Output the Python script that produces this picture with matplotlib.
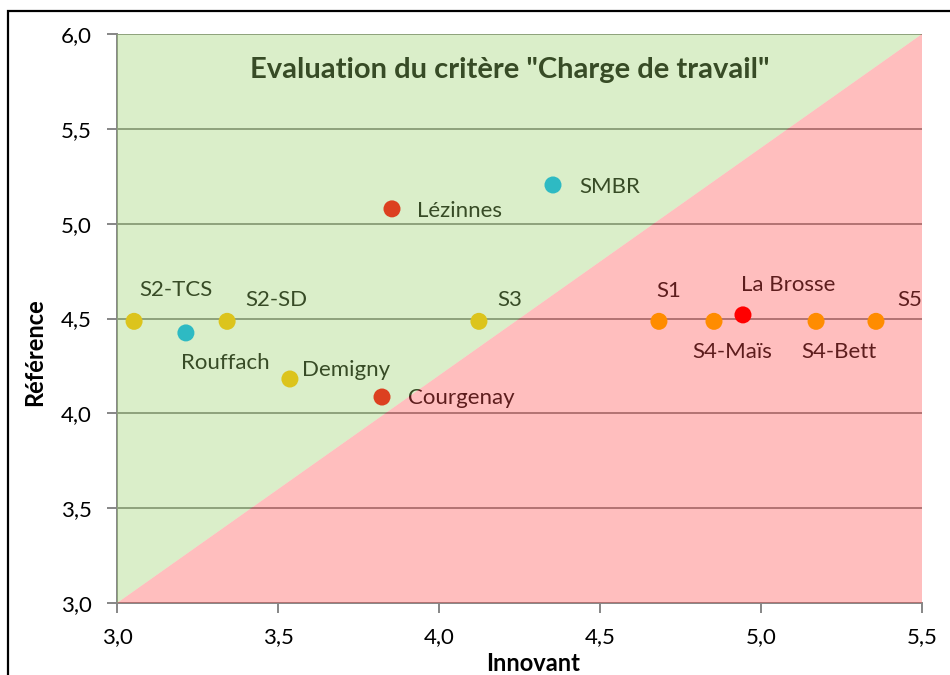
import matplotlib
matplotlib.use("Agg")
import matplotlib.pyplot as plt
from matplotlib.patches import Polygon, Rectangle
from matplotlib.ticker import FuncFormatter, MultipleLocator

plt.rcParams['font.family'] = ['Lato', 'DejaVu Sans']

# data
names = ["S2-TCS", "Rouffach", "S2-SD", "Demigny", "Courgenay", "Lézinnes",
         "SMBR", "S3", "S1", "S4-Maïs", "La Brosse", "S4-Bett", "S5"]
innovant = [3.053, 3.214, 3.342, 3.537, 3.823, 3.854, 4.354, 4.124,
            4.683, 4.854, 4.944, 5.171, 5.357]
reference = [4.485, 4.424, 4.485, 4.181, 4.086, 5.078, 5.204, 4.485,
             4.485, 4.485, 4.519, 4.485, 4.485]
colors = ["#dcc41c", "#2ebac3", "#dcc41c", "#dcc41c", "#dc4020", "#dc4020",
          "#2ebac3", "#dcc41c", "#ff8c00", "#ff8c00", "#ff0000", "#ff8c00", "#ff8c00"]
# label offsets in pixels (dx, dy up) and alignment
offsets = [(5, 31, 'left'), (39, -30, 'center'), (18, 21, 'left'), (12, 9, 'left'),
           (26, -1, 'left'), (25, -2, 'left'), (26, -2, 'left'), (18, 21, 'left'),
           (-3, 30, 'left'), (-22, -31, 'left'), (-2, 30, 'left'), (-15, -31, 'left'),
           (21, 21, 'left')]

xmin, xmax = 3.0, 5.5
ymin, ymax = 3.0, 6.0

fig = plt.figure(figsize=(9.5, 6.75), dpi=100)
ax = fig.add_axes([117/950, 1 - 603/675, 805/950, 569/675])

# outer frame (runs off the right/bottom edge like the screenshot)
fig.patches.append(Rectangle((8/950, -0.2), 1.2, 1 - 11/675 + 0.2,
                             transform=fig.transFigure, fill=False,
                             edgecolor='black', linewidth=1.6))

ax.set_xlim(xmin, xmax)
ax.set_ylim(ymin, ymax)
ax.xaxis.set_major_locator(MultipleLocator(0.5))
ax.yaxis.set_major_locator(MultipleLocator(0.5))
fmt = FuncFormatter(lambda v, p: f"{v:.1f}".replace('.', ','))
ax.xaxis.set_major_formatter(fmt)
ax.yaxis.set_major_formatter(fmt)

ax.grid(axis='y', color='#868686', linewidth=1.4, zorder=1)
ax.set_axisbelow(True)
for s in ['top', 'right']:
    ax.spines[s].set_visible(False)
for s in ['left', 'bottom']:
    ax.spines[s].set_color('#868686')
    ax.spines[s].set_linewidth(1.4)
ax.tick_params(axis='both', colors='#868686', labelcolor='black', labelsize=16,
               length=7, width=1.4)
ax.tick_params(axis='y', pad=11)
ax.tick_params(axis='x', pad=10)

# labels (under the coloured overlay, like the original)
dpi_scale = 72 / fig.dpi
for n, x, y, (dx, dy, ha) in zip(names, innovant, reference, offsets):
    ax.annotate(n, (x, y), xytext=(dx * dpi_scale, dy * dpi_scale),
                textcoords='offset points', ha=ha, va='center',
                fontsize=16, color='#000000', zorder=2)

ax.text(0.488, 0.937, 'Evaluation du critère "Charge de travail"',
        transform=ax.transAxes, ha='center', va='center', fontsize=21,
        fontweight='bold', color='#000000', zorder=2)

# coloured zones above / below the diagonal
ax.add_patch(Polygon([(xmin, ymin), (xmax, ymax), (xmin, ymax)], closed=True,
                     facecolor='#9bd26a', edgecolor='none', alpha=0.36, zorder=3))
ax.add_patch(Polygon([(xmin, ymin), (xmax, ymin), (xmax, ymax)], closed=True,
                     facecolor='#ff5050', edgecolor='none', alpha=0.37, zorder=3))

ax.scatter(innovant, reference, s=150, c=colors, edgecolors='none', zorder=4)

ax.set_xlabel('Innovant', fontsize=17, fontweight='bold')
ax.set_ylabel('Référence', fontsize=17, fontweight='bold')
ax.xaxis.set_label_coords(0.517, -0.086)
ax.yaxis.set_label_coords(-0.088, 0.441)

fig.savefig('out.png', dpi=100)
